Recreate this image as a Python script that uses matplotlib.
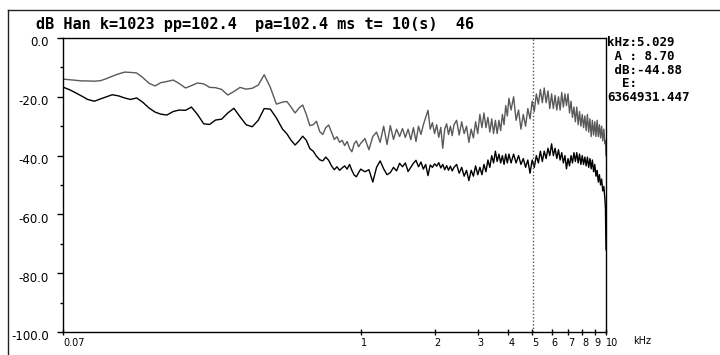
#!/usr/bin/env python3
#
# Usage: plot.py
# Redraws the dB spectrum screen (two spectra, cursor at 5.029 kHz) as out.png.

import matplotlib
matplotlib.use('Agg')
import matplotlib.pyplot as plt
from matplotlib.lines import Line2D
from matplotlib.transforms import ScaledTranslation, blended_transform_factory


W, H, DPI = 720, 355, 100

# frequency bins (kHz), shared by both spectra
KHZ = [0.0615, 0.065, 0.069, 0.073, 0.077, 0.082, 0.087, 0.092, 0.097, 0.103,
       0.109, 0.115, 0.122, 0.129, 0.137, 0.145, 0.153, 0.162, 0.172, 0.182,
       0.193, 0.204, 0.216, 0.229, 0.242, 0.256, 0.271, 0.287, 0.304, 0.322,
       0.341, 0.361, 0.382, 0.404, 0.428, 0.453, 0.48,
       0.50, 0.52, 0.54, 0.56, 0.58, 0.60, 0.62, 0.64, 0.66, 0.68,
       0.70, 0.72, 0.74, 0.76, 0.78, 0.80, 0.82, 0.84, 0.86, 0.88,
       0.90, 0.92, 0.94, 0.96, 0.98, 1.00,
       1.04, 1.08, 1.12, 1.16, 1.20, 1.24, 1.28, 1.32, 1.36, 1.40,
       1.44, 1.48, 1.52, 1.56, 1.60, 1.64, 1.68, 1.72, 1.76, 1.80,
       1.84, 1.88, 1.92, 1.96, 2.00, 2.04, 2.08, 2.12, 2.16, 2.20,
       2.24, 2.28, 2.32, 2.36, 2.40,
       2.46, 2.52, 2.58, 2.64, 2.70, 2.76, 2.82, 2.88, 2.94, 3.00,
       3.06, 3.12, 3.18, 3.24, 3.30, 3.36, 3.42, 3.48, 3.54, 3.60,
       3.66, 3.72, 3.78, 3.84, 3.90, 3.96, 4.02,
       4.1, 4.2, 4.3, 4.4, 4.5, 4.6, 4.7, 4.8, 4.9, 5.0,
       5.1, 5.2, 5.3, 5.4, 5.5, 5.6, 5.7, 5.8, 5.9, 6.0,
       6.1, 6.2, 6.3, 6.4, 6.5, 6.6, 6.7, 6.8, 6.9, 7.0,
       7.1, 7.2, 7.3, 7.4, 7.5, 7.6, 7.7, 7.8, 7.9, 8.0,
       8.1, 8.2, 8.3, 8.4, 8.5, 8.6, 8.7, 8.8, 8.9, 9.0,
       9.1, 9.2, 9.3, 9.4, 9.5, 9.6, 9.7, 9.8, 9.9, 9.95, 10.0]

# upper (grey) spectrum, dB
UPPER_DB = [-14.0, -14.2, -14.4, -14.6, -14.6, -14.7, -14.5, -13.8, -13.0, -12.2,
            -11.6, -11.7, -11.9, -13.4, -15.4, -16.3, -15.2, -14.8, -14.3, -15.5,
            -17.0, -16.2, -15.3, -15.6, -16.8, -16.9, -17.5, -19.4, -18.2, -16.8,
            -17.4, -17.1, -16.0, -12.5, -16.8, -22.5, -21.8,
            -21.6, -23.5, -25.5, -23.8, -22.8, -26.0, -29.8, -29.5, -28.3, -31.8,
            -32.8, -30.5, -29.6, -32.0, -34.5, -33.6, -35.5, -34.8, -36.6, -35.2,
            -37.5, -38.7, -36.0, -35.0, -37.0, -35.8,
            -34.2, -38.0, -33.5, -32.0, -35.5, -30.0, -36.2, -29.8, -34.5, -31.0,
            -33.5, -30.8, -33.8, -31.0, -34.6, -30.5, -35.2, -30.0, -32.8, -29.5,
            -27.0, -24.6, -31.0, -28.8, -32.5, -29.5, -33.8, -30.4, -37.5, -31.0,
            -29.2, -32.8, -30.0, -33.2, -29.5,
            -28.0, -33.0, -28.5, -32.5, -30.0, -35.5, -31.0, -34.0, -28.5, -32.5,
            -26.0, -30.5, -25.5, -30.5, -27.0, -32.0, -27.5, -32.5, -28.0, -32.5,
            -28.0, -31.5, -26.0, -29.5, -23.0, -26.5, -20.5,
            -24.5, -20.0, -28.0, -24.5, -31.0, -26.0, -30.0, -24.0, -27.5, -21.5,
            -25.0, -19.0, -22.5, -17.5, -22.0, -17.0, -22.0, -18.0, -24.0, -19.0,
            -24.0, -19.5, -24.5, -20.0, -24.5, -18.5, -23.5, -19.0, -23.0, -19.0,
            -25.5, -21.5, -27.0, -23.5, -28.5, -23.5, -29.5, -25.0, -30.0, -26.0,
            -30.5, -26.5, -31.5, -26.0, -32.0, -27.5, -33.5, -28.0, -33.0, -28.5,
            -33.5, -28.0, -33.5, -29.5, -34.0, -30.0, -35.0, -31.0, -36.0, -35.0,
            -40.0]

# lower (black) spectrum, dB
LOWER_DB = [-16.8, -17.6, -18.7, -19.8, -20.9, -21.5, -20.7, -20.0, -19.3, -19.7,
            -20.4, -20.9, -20.4, -21.8, -23.8, -25.2, -25.9, -26.2, -25.0, -24.5,
            -24.6, -23.5, -26.0, -29.2, -29.4, -27.9, -27.6, -25.5, -23.9, -26.8,
            -29.5, -30.2, -28.0, -24.0, -24.2, -27.2, -31.0,
            -32.6, -34.8, -36.4, -35.0, -33.4, -34.8, -37.6, -38.5, -40.2, -41.4,
            -41.8, -40.5, -41.6, -43.5, -44.8, -43.8, -45.0, -44.2, -43.5, -44.6,
            -43.0, -45.0, -46.6, -47.2, -45.8, -44.6,
            -45.5, -44.8, -49.0, -44.0, -41.8, -44.5, -46.5, -45.8, -44.0, -45.2,
            -42.6, -43.8, -42.5, -45.4, -44.0, -42.6, -41.6, -43.8, -42.2, -44.6,
            -43.0, -46.8, -43.2, -44.0, -42.8, -43.6, -42.4, -44.2, -43.0, -44.8,
            -43.4, -45.0, -43.6, -45.2, -44.0,
            -43.0, -46.0, -44.0, -47.0, -45.0, -48.5, -45.0, -47.0, -43.5, -46.5,
            -44.0, -46.5, -43.0, -45.5, -41.5, -44.0, -40.0, -42.5, -38.5, -42.0,
            -39.5, -42.5, -40.0, -43.0, -39.5, -42.5, -39.5,
            -42.5, -39.5, -42.5, -40.0, -43.0, -41.0, -44.0, -41.5, -46.0, -41.5,
            -44.0, -40.0, -42.5, -38.5, -42.0, -38.5, -41.0, -37.5, -40.0, -36.0,
            -40.0, -37.5, -41.0, -38.0, -41.5, -39.0, -42.5, -40.0, -44.5, -41.0,
            -43.5, -40.0, -42.5, -39.0, -42.0, -39.0, -42.5, -39.5, -43.0, -40.0,
            -43.0, -40.5, -43.5, -40.5, -44.0, -41.0, -44.5, -41.5, -45.5, -43.0,
            -47.0, -45.0, -49.0, -46.5, -50.0, -48.0, -52.0, -50.5, -55.0, -58.0,
            -72.0]

X_MIN, X_MAX = 0.0611, 10.0
X_MIN_LABEL = '0.07'
X_TICKS = [1, 2, 3, 4, 5, 6, 7, 8, 9, 10]
X_LABELS = ['1', '2', '3', '4', '5', '6', '7', '8', '9', '10']
Y_TICKS = [0, -20, -40, -60, -80, -100]
Y_LABELS = ['0.0', '-20.0', '-40.0', '-60.0', '-80.0', '-100.0']
Y_MINOR = [-10, -30, -50, -70, -90]

CURSOR_KHZ = 5.029
TITLE = 'dB Han k=1023 pp=102.4  pa=102.4 ms t= 10(s)  46'
INFO = ['kHz:5.029', ' A : 8.70', ' dB:-44.88', '  E:', '6364931.447']

MONO = 'DejaVu Sans Mono'


def fx(px):
    return px / W


def fy(py):
    return 1 - py / H


def main():
    plt.rcParams.update({'font.family': 'DejaVu Sans', 'axes.linewidth': 1.0})
    fig = plt.figure(figsize=(W / DPI, H / DPI), dpi=DPI)

    # window frame: left edge and top rule
    fig.add_artist(Line2D([fx(8), fx(8)], [0, fy(10)], transform=fig.transFigure,
                          color='#222222', lw=1))
    fig.add_artist(Line2D([fx(8), 1], [fy(10), fy(10)], transform=fig.transFigure,
                          color='#222222', lw=1))

    ax = fig.add_axes([fx(63), fy(332), fx(606) - fx(63), fy(38) - fy(332)])
    ax.set_xscale('log')
    ax.set_xlim(X_MIN, X_MAX)
    ax.set_ylim(-100, 0)

    ax.plot(KHZ, UPPER_DB, color='#5a5a5a', lw=1.0)
    ax.plot(KHZ, LOWER_DB, color='black', lw=1.0)
    ax.axvline(CURSOR_KHZ, color='#555555', lw=1, ls=(0, (1, 1.5)))

    # x axis
    ax.set_xticks([X_MIN] + X_TICKS, [X_MIN_LABEL] + X_LABELS)
    ax.set_xticks([], minor=True)
    ax.tick_params(axis='x', direction='inout', length=5, width=1, pad=1.5,
                   labelsize=7)
    for lab in ax.get_xticklabels():
        lab.set_horizontalalignment('left')
    fig.text(fx(633), fy(341), 'kHz', fontsize=7, va='center', ha='left')

    # y axis, labels sit a little below their ticks
    ax.set_yticks(Y_TICKS)
    ax.set_yticks(Y_MINOR, minor=True)
    ax.tick_params(axis='y', which='major', direction='out', length=4, width=1,
                   labelleft=False)
    ax.tick_params(axis='y', which='minor', direction='out', length=2, width=1)
    trans = blended_transform_factory(ax.transAxes, ax.transData) + \
        ScaledTranslation(-0.14, -0.05, fig.dpi_scale_trans)
    for val, lab in zip(Y_TICKS, Y_LABELS):
        ax.text(0, val, lab, transform=trans, ha='right', va='center',
                fontsize=8.5)

    for spine in ax.spines.values():
        spine.set_color('black')

    fig.text(fx(36), fy(24), TITLE, family=MONO, weight='bold', fontsize=11,
             ha='left', va='center')
    # cursor read-out, one block so the tight lines do not collide
    fig.text(fx(607), fy(36), '\n'.join(INFO), family=MONO, weight='bold',
             fontsize=9, linespacing=1.08, ha='left', va='top')

    fig.savefig('out.png', dpi=DPI, facecolor='white')
    plt.close(fig)


if __name__ == '__main__':
    main()
